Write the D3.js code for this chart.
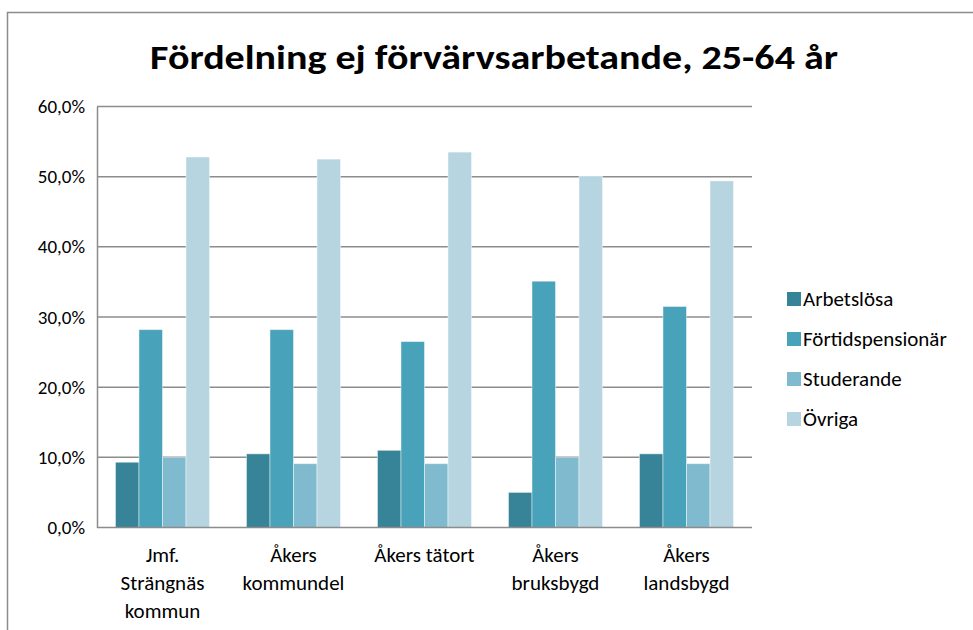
<!DOCTYPE html>
<html>
<head>
<meta charset="utf-8">
<script src="https://cdn.jsdelivr.net/npm/d3@7"></script>
<style>
  body { margin: 0; background: #fff; }
  svg { display: block; }
</style>
</head>
<body>
<div id="chart"></div>
<script>
// Chart data
const categories = [
  "Jmf. Strängnäs kommun",
  "Åkers kommundel",
  "Åkers tätort",
  "Åkers bruksbygd",
  "Åkers landsbygd",
];
const categoryLines = [
  ["Jmf.", "Strängnäs", "kommun"],
  ["Åkers", "kommundel"],
  ["Åkers tätort"],
  ["Åkers", "bruksbygd"],
  ["Åkers", "landsbygd"],
];
const seriesNames = ["Arbetslösa", "Förtidspensionär", "Studerande", "Övriga"];
const arbetslosa = [0.093, 0.105, 0.11, 0.05, 0.105];
const fortidspensionar = [0.282, 0.282, 0.265, 0.351, 0.315];
const studerande = [0.1, 0.091, 0.091, 0.1, 0.091];
const ovriga = [0.528, 0.525, 0.535, 0.501, 0.494];
const yTicks = [0, 0.1, 0.2, 0.3, 0.4, 0.5, 0.6];

const seriesValues = [arbetslosa, fortidspensionar, studerande, ovriga];
const colors = ["#378499", "#48a2ba", "#7fbacf", "#b6d5e0"];

const width = 973;
const height = 630;
const font = "Carlito, Calibri, Lato, sans-serif";

const svg = d3
  .select("#chart")
  .append("svg")
  .attr("width", width)
  .attr("height", height);

// outer chart frame (right / bottom fall outside the picture)
svg
  .append("rect")
  .attr("x", 7.5)
  .attr("y", 12.5)
  .attr("width", 1000)
  .attr("height", 700)
  .attr("fill", "#fff")
  .attr("stroke", "#8c8c8c")
  .attr("stroke-width", 1.5);

// Title
svg
  .append("text")
  .attr("x", 494)
  .attr("y", 69)
  .attr("text-anchor", "middle")
  .attr("font-family", font)
  .attr("font-weight", "bold")
  .attr("font-size", 35)
  .attr("textLength", 688)
  .attr("lengthAdjust", "spacingAndGlyphs")
  .text("Fördelning ej förvärvsarbetande, 25-64 år");

// Scales
const x0 = d3
  .scaleBand()
  .domain(categories)
  .range([97, 752])
  .paddingInner(0.282)
  .paddingOuter(0.141);
const x1 = d3
  .scaleBand()
  .domain(seriesNames)
  .range([0, x0.bandwidth()]);
const y = d3.scaleLinear().domain([0, 0.6]).range([527.5, 106.5]);

// Gridlines
svg
  .append("g")
  .selectAll("line")
  .data(yTicks.slice(1))
  .enter()
  .append("line")
  .attr("x1", 97)
  .attr("x2", 752)
  .attr("y1", (d) => y(d))
  .attr("y2", (d) => y(d))
  .attr("stroke", "#8c8c8c")
  .attr("stroke-width", 1.5);

// Y axis
const yAxis = svg
  .append("g")
  .attr("transform", "translate(97,0)")
  .call(
    d3
      .axisLeft(y)
      .tickValues(yTicks)
      .tickSize(0)
      .tickPadding(12)
      .tickFormat((d) => (d * 100).toFixed(1).replace(".", ",") + "%")
  );
yAxis.select(".domain").attr("stroke", "#8c8c8c").attr("stroke-width", 1.5);
yAxis
  .selectAll("text")
  .attr("font-family", font)
  .attr("font-size", 19)
  .attr("fill", "#000");

// Bars
const groups = svg
  .append("g")
  .selectAll("g")
  .data(categories)
  .enter()
  .append("g")
  .attr("transform", (d) => `translate(${x0(d)},0)`);

groups
  .selectAll("rect")
  .data((d, i) =>
    seriesNames.map((s, j) => ({ series: s, value: seriesValues[j][i], color: colors[j] }))
  )
  .enter()
  .append("rect")
  .attr("x", (d) => x1(d.series))
  .attr("y", (d) => y(d.value))
  .attr("width", x1.bandwidth())
  .attr("height", (d) => y(0) - y(d.value))
  .attr("fill", (d) => d.color)
  .attr("stroke", "rgba(255,255,255,0.45)")
  .attr("stroke-width", 1);

// X axis line
svg
  .append("line")
  .attr("x1", 97)
  .attr("x2", 752)
  .attr("y1", y(0))
  .attr("y2", y(0))
  .attr("stroke", "#8c8c8c")
  .attr("stroke-width", 1.5);

// Category labels
const catLabels = svg
  .append("g")
  .selectAll("text")
  .data(categories)
  .enter()
  .append("text")
  .attr("text-anchor", "middle")
  .attr("font-family", font)
  .attr("font-size", 21)
  .attr("fill", "#000");

catLabels
  .selectAll("tspan")
  .data((d, i) => categoryLines[i].map((line) => ({ line, cat: d })))
  .enter()
  .append("tspan")
  .attr("x", (d) => x0(d.cat) + x0.bandwidth() / 2)
  .attr("y", (d, i) => 562 + i * 28)
  .text((d) => d.line);

// Legend
const legend = svg
  .append("g")
  .attr("transform", "translate(787,299)");

const legendItems = legend
  .selectAll("g")
  .data(seriesNames)
  .enter()
  .append("g")
  .attr("transform", (d, i) => `translate(0,${i * 40})`);

legendItems
  .append("rect")
  .attr("x", 0)
  .attr("y", -7)
  .attr("width", 14)
  .attr("height", 14)
  .attr("fill", (d, i) => colors[i]);

legendItems
  .append("text")
  .attr("x", 16)
  .attr("y", 7)
  .attr("font-family", font)
  .attr("font-size", 21)
  .attr("fill", "#000")
  .text((d) => d);
</script>
</body>
</html>
